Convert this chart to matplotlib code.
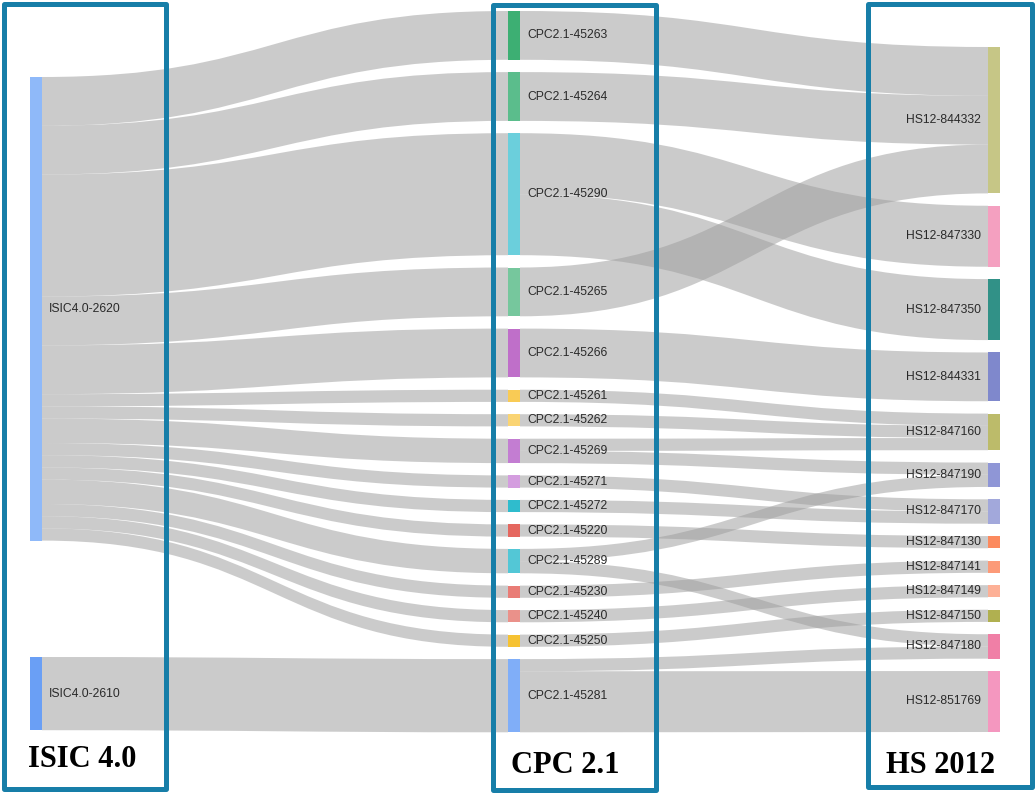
import matplotlib
matplotlib.use("Agg")
from matplotlib import pyplot as plt
from matplotlib.path import Path
from matplotlib.patches import PathPatch, Rectangle

# nodes per column (top to bottom)
isic_nodes = ["ISIC4.0-2620", "ISIC4.0-2610"]
cpc_nodes = ["CPC2.1-45263", "CPC2.1-45264", "CPC2.1-45290", "CPC2.1-45265",
             "CPC2.1-45266", "CPC2.1-45261", "CPC2.1-45262", "CPC2.1-45269",
             "CPC2.1-45271", "CPC2.1-45272", "CPC2.1-45220", "CPC2.1-45289",
             "CPC2.1-45230", "CPC2.1-45240", "CPC2.1-45250", "CPC2.1-45281"]
hs_nodes = ["HS12-844332", "HS12-847330", "HS12-847350", "HS12-844331",
            "HS12-847160", "HS12-847190", "HS12-847170", "HS12-847130",
            "HS12-847141", "HS12-847149", "HS12-847150", "HS12-847180",
            "HS12-851769"]

# links: source, target, value
links_isic_cpc = [
    ("ISIC4.0-2620", "CPC2.1-45263", 4),
    ("ISIC4.0-2620", "CPC2.1-45264", 4),
    ("ISIC4.0-2620", "CPC2.1-45290", 10),
    ("ISIC4.0-2620", "CPC2.1-45265", 4),
    ("ISIC4.0-2620", "CPC2.1-45266", 4),
    ("ISIC4.0-2620", "CPC2.1-45261", 1),
    ("ISIC4.0-2620", "CPC2.1-45262", 1),
    ("ISIC4.0-2620", "CPC2.1-45269", 2),
    ("ISIC4.0-2620", "CPC2.1-45271", 1),
    ("ISIC4.0-2620", "CPC2.1-45272", 1),
    ("ISIC4.0-2620", "CPC2.1-45220", 1),
    ("ISIC4.0-2620", "CPC2.1-45289", 2),
    ("ISIC4.0-2620", "CPC2.1-45230", 1),
    ("ISIC4.0-2620", "CPC2.1-45240", 1),
    ("ISIC4.0-2620", "CPC2.1-45250", 1),
    ("ISIC4.0-2610", "CPC2.1-45281", 6),
]
links_cpc_hs = [
    ("CPC2.1-45263", "HS12-844332", 4),
    ("CPC2.1-45264", "HS12-844332", 4),
    ("CPC2.1-45265", "HS12-844332", 4),
    ("CPC2.1-45290", "HS12-847330", 5),
    ("CPC2.1-45290", "HS12-847350", 5),
    ("CPC2.1-45266", "HS12-844331", 4),
    ("CPC2.1-45261", "HS12-847160", 1),
    ("CPC2.1-45262", "HS12-847160", 1),
    ("CPC2.1-45269", "HS12-847160", 1),
    ("CPC2.1-45269", "HS12-847190", 1),
    ("CPC2.1-45289", "HS12-847190", 1),
    ("CPC2.1-45271", "HS12-847170", 1),
    ("CPC2.1-45272", "HS12-847170", 1),
    ("CPC2.1-45220", "HS12-847130", 1),
    ("CPC2.1-45230", "HS12-847141", 1),
    ("CPC2.1-45240", "HS12-847149", 1),
    ("CPC2.1-45250", "HS12-847150", 1),
    ("CPC2.1-45289", "HS12-847180", 1),
    ("CPC2.1-45281", "HS12-847180", 1),
    ("CPC2.1-45281", "HS12-851769", 5),
]

node_colors = {
    "ISIC4.0-2620": "#8fb9f9", "ISIC4.0-2610": "#6a9ff5",
    "CPC2.1-45263": "#3daf73", "CPC2.1-45264": "#5bbd8c", "CPC2.1-45290": "#6bcfdc",
    "CPC2.1-45265": "#76c79d", "CPC2.1-45266": "#bf6fc9", "CPC2.1-45261": "#f9cb55",
    "CPC2.1-45262": "#fad473", "CPC2.1-45269": "#c37dd2", "CPC2.1-45271": "#d49ddf",
    "CPC2.1-45272": "#2fbccd", "CPC2.1-45220": "#e5675f", "CPC2.1-45289": "#53c7d6",
    "CPC2.1-45230": "#e97c76", "CPC2.1-45240": "#ea918a", "CPC2.1-45250": "#f6c232",
    "CPC2.1-45281": "#80aef8",
    "HS12-844332": "#c6c686", "HS12-847330": "#f4a0c0", "HS12-847350": "#319187",
    "HS12-844331": "#7f88cc", "HS12-847160": "#bcbb6a", "HS12-847190": "#8f96d6",
    "HS12-847170": "#a2a8db", "HS12-847130": "#fc8a5e", "HS12-847141": "#fc9a78",
    "HS12-847149": "#fdb096", "HS12-847150": "#b0b050", "HS12-847180": "#f07fa6",
    "HS12-851769": "#f497bf",
}

col_titles = ["ISIC 4.0", "CPC 2.1", "HS 2012"]

# layout (pixel space)
W, H = 1036, 793
UNIT = 12.2
NODE_W = 12
col_x = [30, 508, 988]
col_top = [77, 11, 47]
col_pad = [116.4, 12.3, 12.35]
boxes = [(3.5, 4, 166, 789), (493, 5, 656, 790), (868, 4, 1032, 787)]
title_xy = [(82, 767), (565, 773), (941, 773)]
BOX_COLOR = "#177ea8"
LINK_COLOR = (0.62, 0.62, 0.62, 0.53)

columns = [isic_nodes, cpc_nodes, hs_nodes]
all_links = links_isic_cpc + links_cpc_hs

# node values
vin, vout = {}, {}
for s, t, v in all_links:
    vout[s] = vout.get(s, 0) + v
    vin[t] = vin.get(t, 0) + v
value = {n: max(vin.get(n, 0), vout.get(n, 0)) for col in columns for n in col}

pos = {}
for ci, col in enumerate(columns):
    y = col_top[ci]
    for n in col:
        pos[n] = (col_x[ci], y, value[n] * UNIT)
        y += value[n] * UNIT + col_pad[ci]

# link offsets (sorted like d3-sankey)
src_off, tgt_off = {}, {}
for n in pos:
    outs = sorted([l for l in all_links if l[0] == n], key=lambda l: pos[l[1]][1])
    y = pos[n][1]
    for l in outs:
        src_off[l] = y
        y += l[2] * UNIT
    ins = sorted([l for l in all_links if l[1] == n], key=lambda l: pos[l[0]][1])
    y = pos[n][1]
    for l in ins:
        tgt_off[l] = y
        y += l[2] * UNIT

fig = plt.figure(figsize=(W / 100, H / 100), dpi=100)
ax = fig.add_axes([0, 0, 1, 1])
ax.set_xlim(0, W)
ax.set_ylim(H, 0)
ax.axis("off")

for l in all_links:
    s, t, v = l
    x0 = pos[s][0] + NODE_W
    x1 = pos[t][0]
    xm = (x0 + x1) / 2
    y0 = src_off[l]
    y1 = tgt_off[l]
    h = v * UNIT
    verts = [(x0, y0), (xm, y0), (xm, y1), (x1, y1),
             (x1, y1 + h), (xm, y1 + h), (xm, y0 + h), (x0, y0 + h), (x0, y0)]
    codes = [Path.MOVETO, Path.CURVE4, Path.CURVE4, Path.CURVE4,
             Path.LINETO, Path.CURVE4, Path.CURVE4, Path.CURVE4, Path.CLOSEPOLY]
    ax.add_patch(PathPatch(Path(verts, codes), facecolor=LINK_COLOR,
                           edgecolor="none", zorder=1))

for ci, col in enumerate(columns):
    for n in col:
        x, y, h = pos[n]
        ax.add_patch(Rectangle((x, y), NODE_W, h, facecolor=node_colors[n],
                               edgecolor="none", zorder=2))
        if ci < 2:
            ax.text(x + NODE_W + 7, y + h / 2, n, ha="left", va="center",
                    fontsize=8.7, family="Liberation Sans", color="#2a2a2a", zorder=4)
        else:
            ax.text(x - 7, y + h / 2, n, ha="right", va="center",
                    fontsize=8.7, family="Liberation Sans", color="#2a2a2a", zorder=4)

for (bx0, by0, bx1, by1), title, (tx, ty) in zip(boxes, col_titles, title_xy):
    ax.add_patch(Rectangle((bx0, by0), bx1 - bx0, by1 - by0, facecolor="none",
                           edgecolor=BOX_COLOR, linewidth=3.6, zorder=3,
                           joinstyle="round"))
    ax.text(tx, ty, title, ha="center", va="baseline", fontsize=22,
            fontweight="bold", family="Liberation Serif", color="black", zorder=4)

fig.savefig("out.png", dpi=100)
